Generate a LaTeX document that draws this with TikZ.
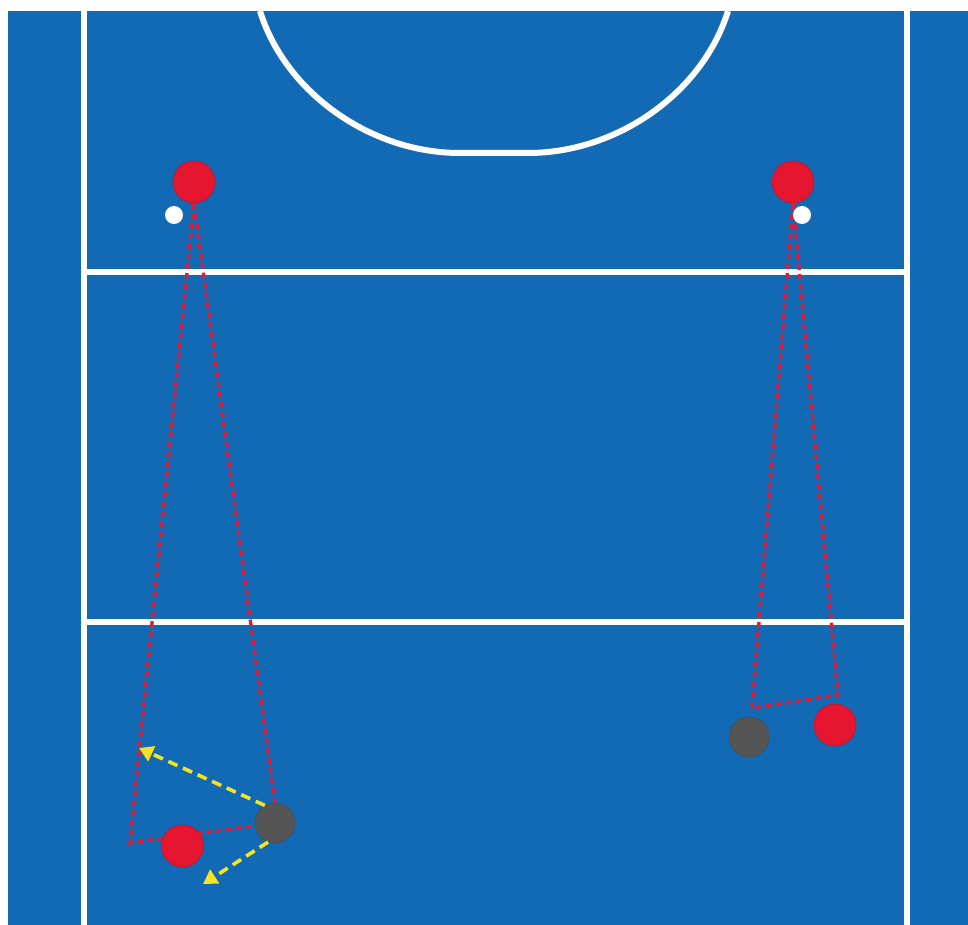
\documentclass[tikz,border=0pt]{standalone}
\usetikzlibrary{arrows.meta}
\definecolor{court}{RGB}{19,106,180}
\definecolor{pred}{RGB}{230,22,48}
\definecolor{dred}{RGB}{214,30,62}
\definecolor{pgrey}{RGB}{85,85,85}
\definecolor{pyel}{RGB}{245,228,30}
\pgfdeclarelayer{courtlayer}
\pgfdeclarelayer{linelayer}
\pgfsetlayers{courtlayer,linelayer,main}
\tikzset{
  courtline/.style={draw=white,line width=6pt},
  redplayer/.style={circle,fill=pred,draw=pred!85!black,line width=0.6pt,minimum size=42pt,inner sep=0pt},
  greyplayer/.style={circle,fill=pgrey,draw=pgrey!90!black,line width=0.6pt,minimum size=40pt,inner sep=0pt},
  ball/.style={circle,fill=white,minimum size=18pt,inner sep=0pt},
  runline/.style={draw=dred,line width=3.4pt,dash pattern=on 6pt off 4pt},
  passline/.style={draw=pyel,line width=3.6pt,dash pattern=on 10pt off 6pt,-{Triangle[width=16pt,length=14pt,fill=pyel]}}
}
\begin{document}
\begin{tikzpicture}[x=1pt,y=-1pt]
\useasboundingbox (0,0) rectangle (968,925);
\begin{pgfonlayer}{courtlayer}
\fill[white] (0,0) rectangle (968,925);
\fill[court] (8,11) rectangle (968,925);
\draw[courtline] (83.5,11) -- (83.5,925);
\draw[courtline] (907,11) -- (907,925);
\draw[courtline] (80.5,272) -- (910,272);
\draw[courtline] (80.5,621.5) -- (910,621.5);
\draw[courtline] (260,11) .. controls (285,92) and (370,153) .. (460,153)
  -- (528,153) .. controls (618,153) and (703,92) .. (728,11);
\end{pgfonlayer}
% players
\node[redplayer] (GL) at (194,182) {};
\node[ball] (bL) at (174,215) {};
\node[redplayer] (GR) at (793,182) {};
\node[ball] (bR) at (802,215) {};
\node[redplayer] (RL) at (182.5,846) {};
\node[greyplayer] (KL) at (275,823) {};
\node[redplayer] (RR) at (835,725) {};
\node[greyplayer] (KR) at (749,737) {};
% corners
\coordinate (cLB) at (130,843);
\coordinate (cR1) at (752,708);
\coordinate (cR2) at (838,695);
\coordinate (aL1) at (139,748);
\coordinate (aL2) at (203,884);
\begin{pgfonlayer}{linelayer}
\draw[runline] (GL.south) -- (cLB) -- (KL.center);
\draw[runline] (GL.south) -- (KL.north);
\draw[runline] (GR.south) -- (cR1) -- (cR2) -- (GR.south);
\end{pgfonlayer}
\draw[passline] (KL.120) -- (aL1);
\draw[passline] (KL.250) -- (aL2);
\end{tikzpicture}
\end{document}
